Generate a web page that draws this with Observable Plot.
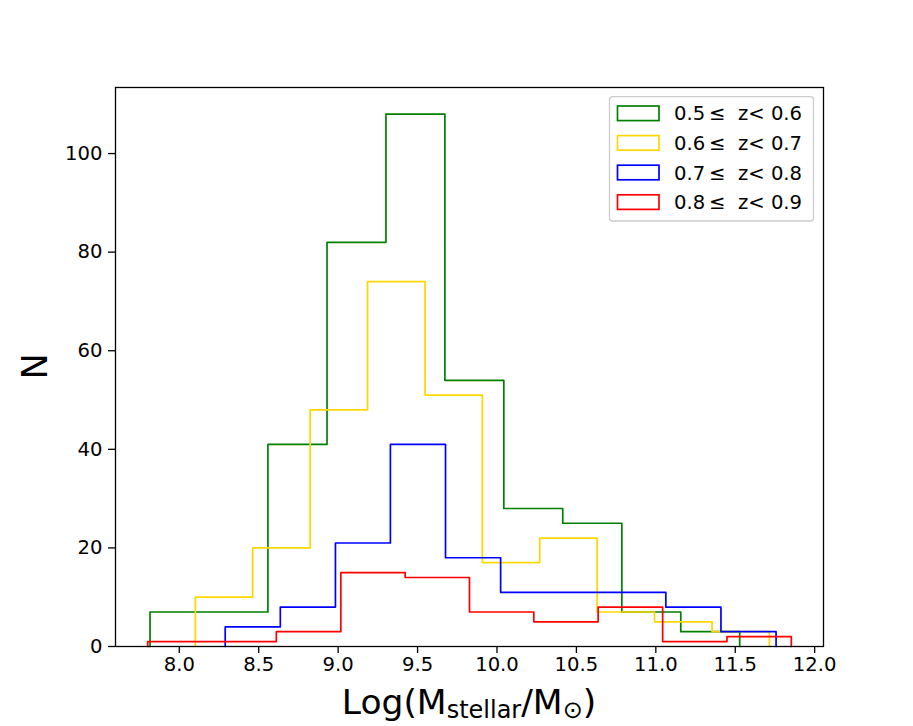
<!DOCTYPE html>
<html><head><meta charset="utf-8">
<script src="https://cdn.jsdelivr.net/npm/d3@7"></script>
<script src="https://cdn.jsdelivr.net/npm/@observablehq/plot@0.6"></script>
<style>body{margin:0;background:#fff}</style>
</head><body><div id="chart"></div>
<script>
// ---- data ----
const seriesNames = ["0.5\u2009\u2264  z< 0.6", "0.6\u2009\u2264  z< 0.7", "0.7\u2009\u2264  z< 0.8", "0.8\u2009\u2264  z< 0.9"];
const seriesColors = ["green", "gold", "blue", "red"];

const edgesA = [7.816, 8.187, 8.558, 8.930, 9.301, 9.672, 10.043, 10.414, 10.786, 11.157, 11.528];
const countsA = [7, 7, 41, 82, 108, 54, 28, 25, 7, 3];

const edgesB = [8.101, 8.462, 8.824, 9.185, 9.547, 9.908, 10.269, 10.631, 10.992, 11.354, 11.715];
const countsB = [10, 20, 48, 74, 51, 17, 22, 7, 5, 3];

const edgesC = [8.289, 8.636, 8.983, 9.329, 9.676, 10.023, 10.370, 10.717, 11.063, 11.410, 11.757];
const countsC = [4, 8, 21, 41, 18, 11, 11, 11, 8, 3];

const edgesD = [7.801, 8.206, 8.611, 9.017, 9.422, 9.827, 10.232, 10.637, 11.043, 11.448, 11.853];
const countsD = [1, 1, 3, 15, 14, 7, 5, 8, 1, 2];

const xTicks = [8.0, 8.5, 9.0, 9.5, 10.0, 10.5, 11.0, 11.5, 12.0];
const yTicks = [0, 20, 40, 60, 80, 100];

// ---- build step outlines ----
const allEdges = [edgesA, edgesB, edgesC, edgesD];
const allCounts = [countsA, countsB, countsC, countsD];
function stepPoints(edges, counts) {
  const pts = [{x: edges[0], y: 0}];
  counts.forEach((c, i) => { pts.push({x: edges[i], y: c}); pts.push({x: edges[i + 1], y: c}); });
  pts.push({x: edges[edges.length - 1], y: 0});
  return pts;
}
const xmin = d3.min(allEdges.flat()), xmax = d3.max(allEdges.flat());
const xpad = (xmax - xmin) * 0.05;
const ymax = d3.max(allCounts.flat()) * 1.05;

const W = 913, H = 726, mL = 115, mR = 90, mT = 87, mB = 80;

const svg = Plot.plot({
  width: W, height: H,
  marginLeft: mL, marginRight: mR, marginTop: mT, marginBottom: mB,
  style: {fontFamily: "DejaVu Sans", fontSize: "19.6px", background: "white", overflow: "visible"},
  x: {domain: [xmin - xpad, xmax + xpad], ticks: xTicks, tickFormat: d3.format(".1f"), label: null, tickSize: 7, tickPadding: 4},
  y: {domain: [0, ymax], ticks: yTicks, label: null, tickSize: 7, tickPadding: 6},
  marks: [
    ...allEdges.map((e, i) => Plot.line(stepPoints(e, allCounts[i]), {x: "x", y: "y", stroke: seriesColors[i], strokeWidth: 1.7})),
    Plot.frame({stroke: "black", strokeWidth: 1.3}),
    Plot.axisX({ticks: xTicks, tickFormat: d3.format(".1f"), tickSize: 7, tickPadding: 4, strokeWidth: 1.3, label: null}),
    Plot.axisY({ticks: yTicks, tickSize: 7, tickPadding: 6, strokeWidth: 1.3, label: null})
  ]
});

const s = d3.select(svg);
// axis labels
const xl = s.append("text").attr("x", mL + (W - mL - mR) / 2).attr("y", 714)
  .attr("text-anchor", "middle").attr("font-size", "34.5px").attr("fill", "black");
xl.append("tspan").text("Log(M");
xl.append("tspan").attr("font-size", "24px").attr("dy", 4).text("stellar");
xl.append("tspan").attr("dy", -4).text("/M");
xl.append("tspan").attr("font-size", "24px").attr("dy", 4).text("\u2299");
xl.append("tspan").attr("dy", -4).text(")");

s.append("text").attr("transform", `translate(47,${mT + (H - mT - mB) / 2}) rotate(-90)`)
  .attr("text-anchor", "middle").attr("font-size", "35px").attr("fill", "black").text("N");

// legend
const lg = s.append("g").attr("text-anchor", "start");
lg.append("rect").attr("x", 609.5).attr("y", 96.7).attr("width", 204).attr("height", 124.3)
  .attr("rx", 3).attr("fill", "white").attr("fill-opacity", 0.8).attr("stroke", "#cccccc").attr("stroke-width", 1.3);
const rowY = [113.3, 142.9, 172.5, 202.1];
seriesNames.forEach((name, i) => {
  lg.append("rect").attr("x", 617.5).attr("y", rowY[i] - 7.3).attr("width", 41.5).attr("height", 14.6)
    .attr("fill", "none").attr("stroke", seriesColors[i]).attr("stroke-width", 1.7);
  lg.append("text").attr("x", 674).attr("y", rowY[i]).attr("dy", "0.36em").attr("font-size", "19.6px")
    .attr("text-anchor", "start").attr("fill", "black").style("white-space", "pre").attr("xml:space", "preserve")
    .text(name);
});

document.getElementById("chart").appendChild(svg);
</script>
</body></html>
